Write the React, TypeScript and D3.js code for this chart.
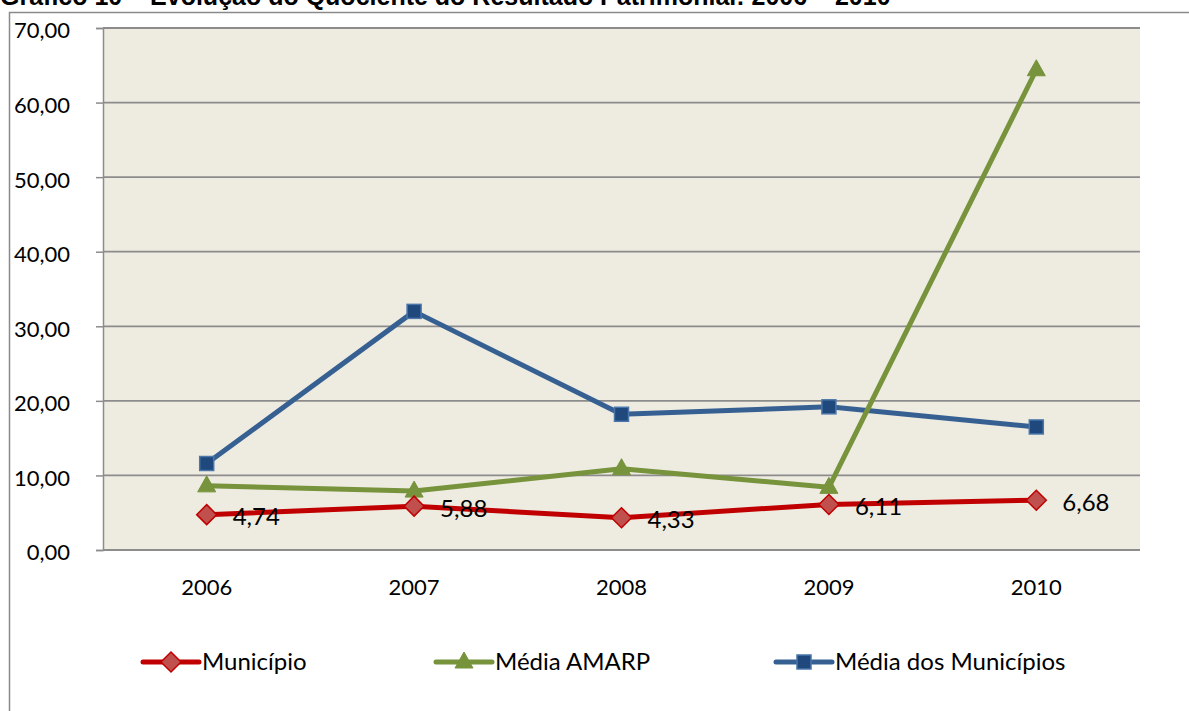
import React, { useEffect, useRef } from "react";
import * as d3 from "d3";

const years = ["2006", "2007", "2008", "2009", "2010"];
const municipio = [4.74, 5.88, 4.33, 6.11, 6.68];
const mediaAmarp = [8.6, 7.9, 10.9, 8.4, 64.4];
const mediaMunicipios = [11.6, 32.0, 18.2, 19.2, 16.5];
const yTicks = [0, 10, 20, 30, 40, 50, 60, 70];

const fmt = (v: number) => v.toFixed(2).replace(".", ",");

const App = () => {
  const ref = useRef<SVGSVGElement>(null);

  useEffect(() => {
    const width = 1189;
    const height = 711;
    const svg = d3.select(ref.current).attr("width", width).attr("height", height);
    svg.selectAll("*").remove();

    const font = "Lato, 'Open Sans', sans-serif";
    const margin = { top: 28, right: 49, bottom: 161, left: 103 };

    // title, cut off by the top edge like in the source
    svg
      .append("text")
      .attr("x", 0)
      .attr("y", 5)
      .attr("font-family", "'Liberation Sans', Arial, sans-serif")
      .attr("font-weight", "bold")
      .attr("font-size", 25)
      .attr("fill", "#000")
      .text("Gráfico 10 – Evolução do Quociente do Resultado Patrimonial: 2006 – 2010");

    // outer chart border
    svg
      .append("rect")
      .attr("x", 9.5)
      .attr("y", 12.5)
      .attr("width", width + 20)
      .attr("height", height + 20)
      .attr("fill", "#fff")
      .attr("stroke", "#8a8a8a")
      .attr("stroke-width", 1.5);

    const x = d3
      .scaleBand()
      .domain(years)
      .range([margin.left, width - margin.right]);

    const y = d3
      .scaleLinear()
      .domain([0, 70])
      .range([height - margin.bottom, margin.top]);

    const cx = (i: number) => (x(years[i]) as number) + x.bandwidth() / 2;

    // plot area
    svg
      .append("rect")
      .attr("x", margin.left)
      .attr("y", margin.top)
      .attr("width", width - margin.left - margin.right)
      .attr("height", height - margin.top - margin.bottom)
      .attr("fill", "#EEEBE0");

    // y axis with ticks
    const yAxis = svg
      .append("g")
      .attr("transform", `translate(${margin.left},0)`)
      .call(
        d3
          .axisLeft(y)
          .tickValues(yTicks)
          .tickSize(7)
          .tickPadding(26)
          .tickFormat((d) => fmt(d as number))
      );
    yAxis.select(".domain").attr("stroke", "#8c8c8c").attr("stroke-width", 1.5);
    yAxis.selectAll(".tick line").attr("stroke", "#8c8c8c").attr("stroke-width", 1.5);
    yAxis
      .selectAll(".tick text")
      .attr("font-family", font)
      .attr("font-size", 22)
      .attr("dy", "0.45em")
      .attr("fill", "#000");

    // gridlines
    svg
      .append("g")
      .selectAll("line")
      .data(yTicks)
      .enter()
      .append("line")
      .attr("x1", margin.left)
      .attr("x2", width - margin.right)
      .attr("y1", (d) => y(d))
      .attr("y2", (d) => y(d))
      .attr("stroke", "#8c8c8c")
      .attr("stroke-width", 1.8);

    // x labels
    svg
      .append("g")
      .selectAll("text")
      .data(years)
      .enter()
      .append("text")
      .attr("x", (d, i) => cx(i))
      .attr("y", 595)
      .attr("text-anchor", "middle")
      .attr("font-family", font)
      .attr("font-size", 22)
      .attr("fill", "#000")
      .text((d) => d);

    const series = [
      { name: "Município", values: municipio, line: "#C00000", fill: "#C0504D", stroke: "#C00000", shape: "diamond" },
      { name: "Média AMARP", values: mediaAmarp, line: "#77933C", fill: "#77933C", stroke: "#77933C", shape: "triangle" },
      { name: "Média dos Municípios", values: mediaMunicipios, line: "#376092", fill: "#1F497D", stroke: "#4A76AA", shape: "square" },
    ];

    const marker = (g: any, shape: string, px: number, py: number, s: any) => {
      if (shape === "diamond") {
        g.append("path")
          .attr("d", `M${px},${py - 10}L${px + 10},${py}L${px},${py + 10}L${px - 10},${py}Z`)
          .attr("fill", s.fill)
          .attr("stroke", s.stroke)
          .attr("stroke-width", 1.5);
      } else if (shape === "triangle") {
        g.append("path")
          .attr("d", `M${px},${py - 10}L${px + 9},${py + 6}L${px - 9},${py + 6}Z`)
          .attr("fill", s.fill)
          .attr("stroke", s.stroke)
          .attr("stroke-width", 1);
      } else {
        g.append("rect")
          .attr("x", px - 7)
          .attr("y", py - 7)
          .attr("width", 14)
          .attr("height", 14)
          .attr("fill", s.fill)
          .attr("stroke", s.stroke)
          .attr("stroke-width", 1.5);
      }
    };

    const line = d3
      .line<number>()
      .x((d, i) => cx(i))
      .y((d) => y(d));

    // draw in reverse so Município sits on top
    [...series].reverse().forEach((s) => {
      const g = svg.append("g");
      g.append("path")
        .attr("d", line(s.values))
        .attr("fill", "none")
        .attr("stroke", s.line)
        .attr("stroke-width", 5)
        .attr("stroke-linejoin", "round");
      s.values.forEach((v, i) => marker(g, s.shape, cx(i), y(v), s));
    });

    // data labels for Município
    svg
      .append("g")
      .selectAll("text")
      .data(municipio)
      .enter()
      .append("text")
      .attr("x", (d, i) => cx(i) + 26)
      .attr("y", (d) => y(d) + 10.5)
      .attr("font-family", font)
      .attr("font-size", 24)
      .attr("fill", "#000")
      .text((d) => fmt(d));

    // legend
    const legendX = [143, 436, 776];
    series.forEach((s, i) => {
      const g = svg.append("g");
      const lx = legendX[i];
      const ly = 662;
      g.append("line")
        .attr("x1", lx)
        .attr("x2", lx + 56)
        .attr("y1", ly)
        .attr("y2", ly)
        .attr("stroke", s.line)
        .attr("stroke-width", 5)
        .attr("stroke-linecap", "round");
      marker(g, s.shape, lx + 28, ly, s);
      g.append("text")
        .attr("x", lx + 59)
        .attr("y", ly + 8)
        .attr("font-family", font)
        .attr("font-size", 24)
        .attr("fill", "#000")
        .text(s.name);
    });
  }, []);

  return (
    <svg ref={ref} style={{ position: "absolute", left: 0, top: 0, display: "block" }}></svg>
  );
};

export default App;
